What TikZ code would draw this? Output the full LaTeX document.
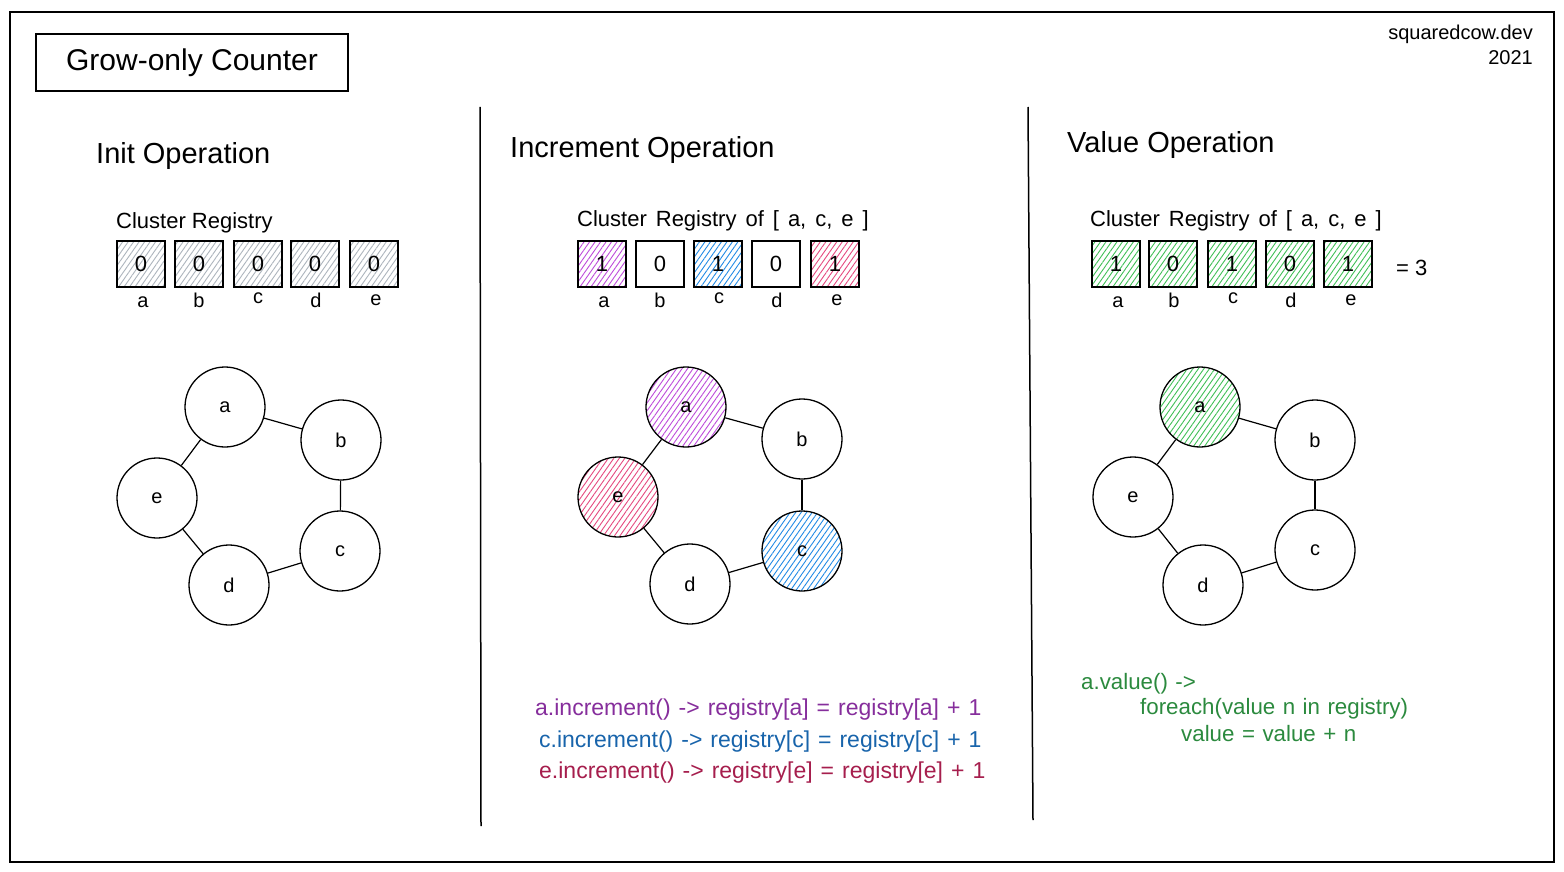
\documentclass[tikz,border=0pt]{standalone}
\usepackage{fontspec}
\setmainfont{Liberation Sans}
\usetikzlibrary{patterns.meta}
\definecolor{fpurple}{HTML}{BE4BDB}
\definecolor{tpurple}{HTML}{862E9C}
\definecolor{fblue}{HTML}{228BE6}
\definecolor{tblue}{HTML}{1864AB}
\definecolor{fred}{HTML}{E64980}
\definecolor{tred}{HTML}{A61E4D}
\definecolor{fgreen}{HTML}{40C057}
\definecolor{tgreen}{HTML}{2B8A3E}
\definecolor{fgray}{HTML}{ADB5BD}
\newcommand{\widesubfont}{\fontsize{22}{22}\selectfont\spaceskip 9pt\relax}
\newcommand{\codesfont}{\fontsize{23}{23}\selectfont\spaceskip 8pt\relax}
\newcommand{\gcodesfont}{\fontsize{22.3}{22.3}\selectfont\spaceskip 7.5pt\relax}
\begin{document}
\begin{tikzpicture}[x=1pt,y=-1pt,
  fs/.style={font=\fontsize{#1}{#1}\selectfont},
  reg/.style={draw, line width=1.3pt, minimum width=48pt, minimum height=46pt, inner sep=0pt, fs=22},
  lbl/.style={anchor=base, inner sep=0pt, fs=20},
  vert/.style={draw, circle, line width=1.3pt, minimum size=80pt, inner sep=0pt, fs=20},
  edge/.style={line width=1.2pt},
  hatch/.style={pattern={Lines[angle=55,distance=4.5pt,line width=0.9pt]}, pattern color=#1},
  txt/.style={anchor=base west, inner sep=0pt},
  head/.style={txt, fs=29},
  sub/.style={txt, fs=22},
  widesub/.style={txt, font=\widesubfont},
  code/.style={txt, font=\codesfont},
  gcode/.style={txt, font=\gcodesfont}]
\useasboundingbox[fill=white] (0,0) rectangle (1564,872);
\draw[line width=1.5pt] (10,12) rectangle (1554,862);
\coordinate (d1t) at (480,107); \coordinate (d1b) at (481,826);
\coordinate (d2t) at (1028,107); \coordinate (d2b) at (1033,820);
\draw[line width=1.5pt] (d1t) -- (d1b);
\draw[line width=1.5pt] (d2t) -- (d2b);
% title
\node[draw, line width=1.3pt, minimum width=312pt, minimum height=57pt, fs=30] (title) at (192,62.5) {Grow-only Counter};
\node[anchor=base east, inner sep=0pt, fs=20] (site) at (1533,40) {squaredcow.dev};
\node[anchor=base east, inner sep=0pt, fs=20] (year) at (1533,65) {2021};
% headers
\node[head] (h1) at (96,164) {Init Operation};
\node[head] (h2) at (510,158) {Increment Operation};
\node[head] (h3) at (1067,153) {Value Operation};
\node[sub] (s1) at (116,228) {Cluster Registry};
\node[widesub] (s2) at (577,226) {Cluster Registry of [ a, c, e ]};
\node[widesub] (s3) at (1090,226) {Cluster Registry of [ a, c, e ]};
% init registry
\node[reg, hatch=fgray] (ra1) at (141,264) {0};
\node[reg, hatch=fgray] (rb1) at (199,264) {0};
\node[reg, hatch=fgray] (rc1) at (258,264) {0};
\node[reg, hatch=fgray] (rd1) at (315,264) {0};
\node[reg, hatch=fgray] (re1) at (374,264) {0};
\node[lbl] (la1) at (143,307) {a};
\node[lbl] (lb1) at (199,307) {b};
\node[lbl] (lc1) at (258,303) {c};
\node[lbl] (ld1) at (316,307) {d};
\node[lbl] (le1) at (376,305) {e};
% increment registry
\node[reg, hatch=fpurple] (ra2) at (602,264) {1};
\node[reg] (rb2) at (660,264) {0};
\node[reg, hatch=fblue] (rc2) at (718,264) {1};
\node[reg] (rd2) at (776,264) {0};
\node[reg, hatch=fred] (re2) at (835,264) {1};
\node[lbl] (la2) at (604,307) {a};
\node[lbl] (lb2) at (660,307) {b};
\node[lbl] (lc2) at (719,303) {c};
\node[lbl] (ld2) at (777,307) {d};
\node[lbl] (le2) at (837,305) {e};
% value registry
\node[reg, hatch=fgreen] (ra3) at (1116,264) {1};
\node[reg, hatch=fgreen] (rb3) at (1173,264) {0};
\node[reg, hatch=fgreen] (rc3) at (1232,264) {1};
\node[reg, hatch=fgreen] (rd3) at (1290,264) {0};
\node[reg, hatch=fgreen] (re3) at (1348,264) {1};
\node[lbl] (la3) at (1118,307) {a};
\node[lbl] (lb3) at (1174,307) {b};
\node[lbl] (lc3) at (1233,303) {c};
\node[lbl] (ld3) at (1291,307) {d};
\node[lbl] (le3) at (1351,305) {e};
\node[txt, fs=22] (eq) at (1396,275) {= 3};
% init graph
\node[vert] (ga1) at (225,407) {a};
\node[vert] (gb1) at (341,440) {b};
\node[vert] (gc1) at (340,551) {c};
\node[vert] (gd1) at (229,585) {d};
\node[vert] (ge1) at (157,498) {e};
\draw[edge] (ga1) -- (gb1);
\draw[edge] (gb1) -- (gc1);
\draw[edge] (gc1) -- (gd1);
\draw[edge] (gd1) -- (ge1);
\draw[edge] (ge1) -- (ga1);
% increment graph
\node[vert, hatch=fpurple] (ga2) at (686,407) {a};
\node[vert] (gb2) at (802,439) {b};
\node[vert, hatch=fblue] (gc2) at (802,551) {c};
\node[vert] (gd2) at (690,584) {d};
\node[vert, hatch=fred] (ge2) at (618,497) {e};
\draw[edge] (ga2) -- (gb2);
\draw[edge] (gb2) -- (gc2);
\draw[edge] (gc2) -- (gd2);
\draw[edge] (gd2) -- (ge2);
\draw[edge] (ge2) -- (ga2);
% value graph
\node[vert, hatch=fgreen] (ga3) at (1200,407) {a};
\node[vert] (gb3) at (1315,440) {b};
\node[vert] (gc3) at (1315,550) {c};
\node[vert] (gd3) at (1203,585) {d};
\node[vert] (ge3) at (1133,497) {e};
\draw[edge] (ga3) -- (gb3);
\draw[edge] (gb3) -- (gc3);
\draw[edge] (gc3) -- (gd3);
\draw[edge] (gd3) -- (ge3);
\draw[edge] (ge3) -- (ga3);
% code
\node[code, text=tpurple] (c1) at (535,715) {a.increment() -> registry[a] = registry[a] + 1};
\node[code, text=tblue] (c2) at (539,747) {c.increment() -> registry[c] = registry[c] + 1};
\node[code, text=tred] (c3) at (539,778) {e.increment() -> registry[e] = registry[e] + 1};
\node[gcode, text=tgreen] (v1) at (1081,689) {a.value() ->};
\node[gcode, text=tgreen] (v2) at (1140,714) {foreach(value n in registry)};
\node[gcode, text=tgreen] (v3) at (1181,741) {value = value + n};
\end{tikzpicture}
\end{document}
